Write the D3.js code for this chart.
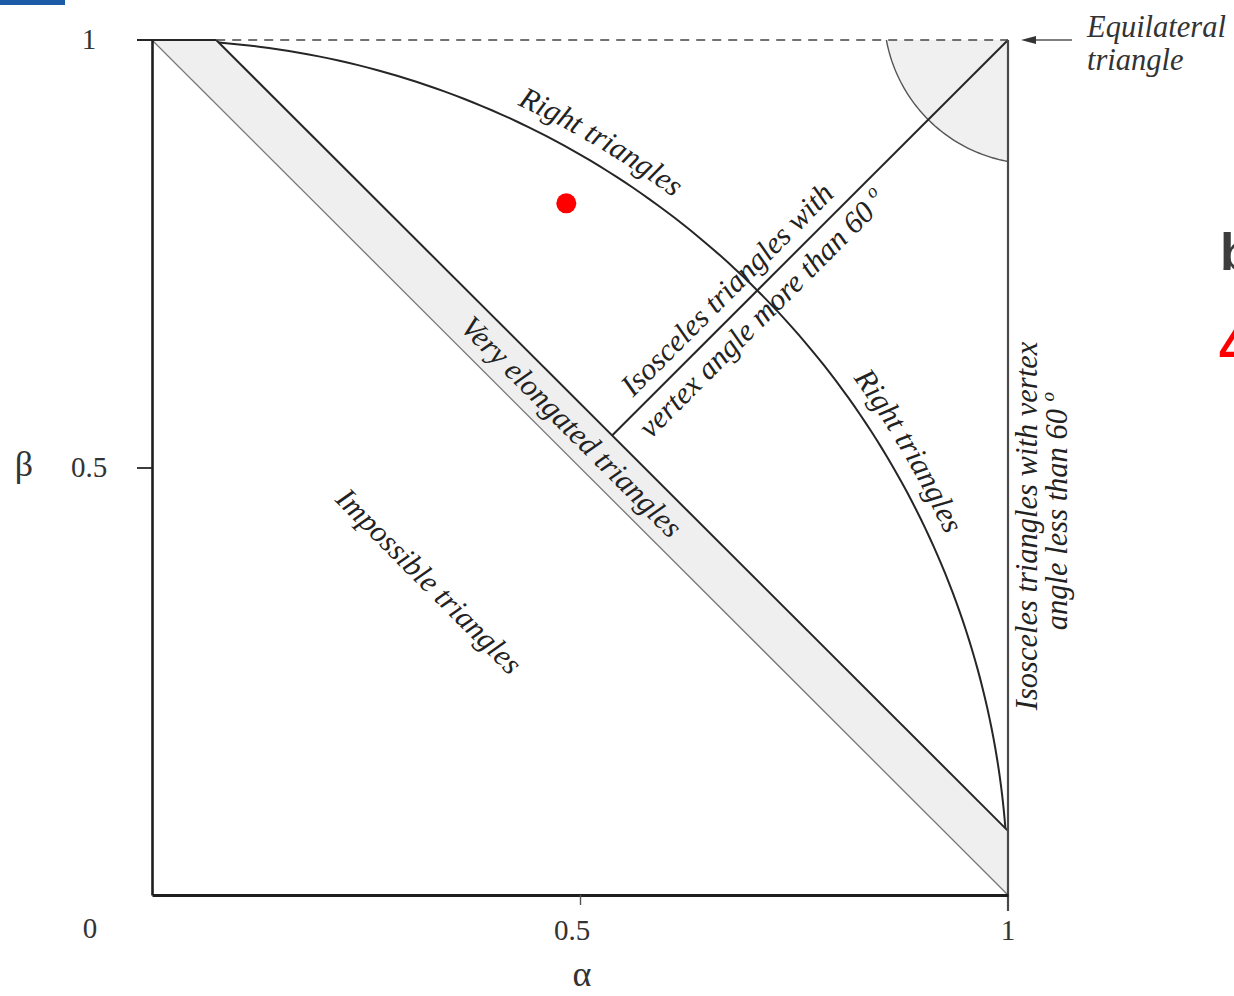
<!DOCTYPE html>
<html><head><meta charset="utf-8">
<script src="https://cdn.jsdelivr.net/npm/d3@7"></script>
<style>
html,body{margin:0;padding:0;background:#fff;overflow:hidden}
svg{display:block}
</style></head><body>
<svg id="chart" width="1234" height="996"></svg>
<script>
// Map of triangle shapes: α and β are the two shorter sides divided by the longest side.
const xTickValues = [0.5, 1];
const xTickLabels = ["0.5", "1"];
const yTickValues = [0.5, 1];
const yTickLabels = ["0.5", "1"];
const originLabel = "0";
const elongationMargin = 0.075;        // width of the very-elongated strip above α + β = 1
const rightRadius = 1;                 // right triangles: α² + β² = 1
const equilateralOffset = 0.032;       // centre of the near-equilateral zone sits at (1+o, 1+o)
const equilateralRadius = 0.177;
const isoscelesLabelAt = 0.69;         // position along α = β of its label
const samplePoint = [0.484, 0.809];

const svg = d3.select("#chart");
const x = d3.scaleLinear([0, 1], [152, 1008]);
const y = d3.scaleLinear([0, 1], [895, 40]);
const line = d3.line(d => x(d[0]), d => y(d[1]));
const serif = "'Liberation Serif','Times New Roman',serif";
const ink = "#262626";

const c = 1 + elongationMargin;

// very elongated strip
svg.append("path")
  .attr("d", line([[0, 1], [c - 1, 1], [1, c - 1], [1, 0]]) + "Z")
  .attr("fill", "#efefef");

// near-equilateral zone around (1,1)
const ec = 1 + equilateralOffset;
const eHit = ec - Math.sqrt(equilateralRadius ** 2 - equilateralOffset ** 2);
const a0 = Math.atan2(eHit - ec, 1 - ec);   // point (1, eHit)
const a1 = Math.atan2(1 - ec, eHit - ec);   // point (eHit, 1)
const eArc = d3.range(0, 61).map(i => {
  const a = a0 + (a1 - a0) * i / 60;
  return [ec + equilateralRadius * Math.cos(a), ec + equilateralRadius * Math.sin(a)];
});
svg.append("path")
  .attr("d", line([[1, 1], ...eArc]) + "Z")
  .attr("fill", "#f0f0f0");
svg.append("path")
  .attr("d", line(eArc))
  .attr("fill", "none").attr("stroke", "#555").attr("stroke-width", 1.4);

// α + β = 1 (impossible triangles below)
svg.append("path")
  .attr("d", line([[0, 1], [1, 0]]))
  .attr("stroke", "#777").attr("stroke-width", 1.3).attr("fill", "none");

// upper edge of the elongated strip
svg.append("path")
  .attr("d", line([[c - 1, 1], [1, c - 1]]))
  .attr("stroke", ink).attr("stroke-width", 2).attr("fill", "none");

// right triangles arc, between its crossings with the strip edge
const s = Math.sqrt(2 * rightRadius ** 2 - c * c);
const t0 = Math.acos((c - s) / 2 / rightRadius);
const t1 = Math.acos((c + s) / 2 / rightRadius);
const rArc = d3.range(0, 121).map(i => {
  const t = t0 + (t1 - t0) * i / 120;
  return [rightRadius * Math.cos(t), rightRadius * Math.sin(t)];
});
svg.append("path")
  .attr("d", line(rArc))
  .attr("stroke", ink).attr("stroke-width", 2).attr("fill", "none");

// isosceles triangles: α = β
svg.append("path")
  .attr("d", line([[c / 2, c / 2], [1, 1]]))
  .attr("stroke", ink).attr("stroke-width", 2).attr("fill", "none");

// β = 1 : dashed above the strip, solid along the strip's top
svg.append("path")
  .attr("d", line([[c - 1, 1], [1, 1]]))
  .attr("stroke", "#444").attr("stroke-width", 1.6).attr("stroke-dasharray", "9,7").attr("fill", "none");
svg.append("line")
  .attr("x1", x(0) - 15).attr("x2", x(c - 1)).attr("y1", y(1)).attr("y2", y(1))
  .attr("stroke", ink).attr("stroke-width", 1.8);

// α = 1
svg.append("line")
  .attr("x1", x(1)).attr("x2", x(1)).attr("y1", y(1)).attr("y2", y(0) + 16)
  .attr("stroke", "#4a4a4a").attr("stroke-width", 2.2);

// axes
const yAxis = svg.append("g").attr("transform", `translate(${x(0)},0)`)
  .call(d3.axisLeft(y).tickValues(yTickValues.slice(0, 1)).tickSize(15).tickFormat("").tickSizeOuter(0));
yAxis.select(".domain").attr("stroke", "#1e1e1e").attr("stroke-width", 2.6);
yAxis.selectAll(".tick line").attr("stroke", ink).attr("stroke-width", 1.8);

const xAxis = svg.append("g").attr("transform", `translate(0,${y(0)})`)
  .call(d3.axisBottom(x).tickValues(xTickValues.slice(0, 1)).tickSize(10).tickFormat("").tickSizeOuter(0));
xAxis.select(".domain").attr("stroke", "#1e1e1e").attr("stroke-width", 3);
xAxis.selectAll(".tick line").attr("stroke", "#555").attr("stroke-width", 1.4);

// tick labels
const tickText = { "font-family": serif, "font-size": 29, "fill": "#333", "text-anchor": "middle" };
function styled(sel, st) { Object.entries(st).forEach(([k, v]) => sel.attr(k, v)); return sel; }
yTickValues.forEach((v, i) => {
  styled(svg.append("text"), tickText).attr("x", 89).attr("y", y(v) + 9).text(yTickLabels[i]);
});
xTickValues.forEach((v, i) => {
  styled(svg.append("text"), tickText).attr("x", x(v) - 8 * (v < 1)).attr("y", y(0) + 45).text(xTickLabels[i]);
});
styled(svg.append("text"), tickText).attr("x", 90).attr("y", y(0) + 43).text(originLabel);

// axis titles
svg.append("text").attr("x", 24).attr("y", y(0.5) + 8).attr("text-anchor", "middle")
  .attr("font-family", serif).attr("font-size", 36).attr("fill", "#333").text("β");
svg.append("text").attr("x", x(0.5) + 2).attr("y", y(0) + 91).attr("text-anchor", "middle")
  .attr("font-family", serif).attr("font-size", 36).attr("fill", "#333").text("α");

// region labels
const lab = { "font-family": serif, "font-style": "italic", "font-size": 30.5, "fill": "#222" };

function rotated(pt, angle) {
  return svg.append("g").attr("transform", `translate(${x(pt[0])},${y(pt[1])}) rotate(${angle})`);
}
styled(rotated([0.3236, 0.367], 45).append("text"), lab)
  .attr("text-anchor", "middle").attr("y", 10).text("Impossible triangles");
styled(rotated([0.49, 1 + elongationMargin / 2 - 0.49], 45).append("text"), lab)
  .attr("text-anchor", "middle").attr("y", 10).text("Very elongated triangles");

const iso = rotated([isoscelesLabelAt, isoscelesLabelAt], -45);
styled(iso.append("text"), lab).attr("text-anchor", "middle").attr("y", -12).text("Isosceles triangles with");
const iso2 = styled(iso.append("text"), lab).attr("text-anchor", "middle").attr("x", 8).attr("y", 30);
iso2.append("tspan").text("vertex angle more than 60 ");
iso2.append("tspan").attr("font-size", 19).attr("dy", -13).text("o");

const vert = svg.append("g").attr("transform", `translate(1000,526) rotate(-90)`);
styled(vert.append("text"), lab).attr("text-anchor", "middle").attr("y", 37).text("Isosceles triangles with vertex");
const v2 = styled(vert.append("text"), lab).attr("text-anchor", "middle").attr("x", 15).attr("y", 67);
v2.append("tspan").text("angle less than 60 ");
v2.append("tspan").attr("font-size", 19).attr("dy", -13).text("o");

// "Right triangles" set along the arc, just outside it
const textR = rightRadius + 0.018;
const guide = d3.range(0, 91).map(i => {
  const t = Math.PI / 2 * (1 - i / 90);
  return [textR * Math.cos(t), textR * Math.sin(t)];
});
svg.append("defs").append("path").attr("id", "rightGuide").attr("d", line(guide));
[34.2, 66.2].forEach(off => {
  styled(svg.append("text"), lab).append("textPath")
    .attr("href", "#rightGuide").attr("startOffset", off + "%").attr("text-anchor", "middle")
    .text("Right triangles");
});

// equilateral pointer
svg.append("line").attr("x1", 1072).attr("x2", 1030).attr("y1", y(1)).attr("y2", y(1))
  .attr("stroke", "#555").attr("stroke-width", 1.5);
svg.append("path").attr("d", `M1021,${y(1)} L1036,${y(1) - 4} L1036,${y(1) + 4} Z`).attr("fill", "#333");
const eq = styled(svg.append("text"), lab).attr("font-size", 30.5).attr("fill", "#333");
eq.append("tspan").attr("x", 1087).attr("y", 37).text("Equilateral");
eq.append("tspan").attr("x", 1087).attr("y", 70).text("triangle");

// marked triangle
svg.append("circle").attr("cx", x(samplePoint[0])).attr("cy", y(samplePoint[1])).attr("r", 10).attr("fill", "#ff0000");

// page furniture around the figure
svg.append("rect").attr("x", 0).attr("y", 0).attr("width", 65).attr("height", 5).attr("fill", "#1c5ba5");
svg.append("text").attr("x", 1220).attr("y", 270).attr("font-family", "'Liberation Sans',Arial,sans-serif")
  .attr("font-weight", "bold").attr("font-size", 52).attr("fill", "#3d3d3d").text("b");
svg.append("text").attr("x", 1219).attr("y", 364).attr("font-family", "'Liberation Sans',Arial,sans-serif")
  .attr("font-weight", "bold").attr("font-size", 52).attr("fill", "#ff0000").text("4");
</script>
</body></html>
